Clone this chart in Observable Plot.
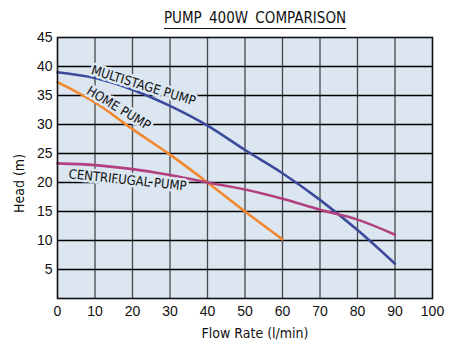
<!DOCTYPE html>
<html>
<head>
<meta charset="utf-8">
<script src="https://cdn.jsdelivr.net/npm/d3@7"></script>
<script src="https://cdn.jsdelivr.net/npm/@observablehq/plot@0.6"></script>
<style>
  html, body { margin: 0; padding: 0; background: #fff; }
  #wrap { position: relative; width: 462px; height: 361px; overflow: hidden; }
  #title {
    position: absolute; top: 9px; left: 155px; width: 200px; text-align: center;
    font-family: "Liberation Sans Narrow", "DejaVu Sans Condensed", "Liberation Sans", sans-serif;
    font-size: 15px; color: #111; word-spacing: 3px;
  }
  #title span { border-bottom: 1.5px solid #111; padding-bottom: 1px; }
</style>
</head>
<body>
<div id="wrap">
  <div id="title"><span>PUMP 400W COMPARISON</span></div>
  <div id="chart"></div>
</div>
<script>
// Flow rate (l/min)
const flow = [0, 10, 20, 30, 40, 50, 60, 70, 80, 90];
// Head (m) per pump
const multistage = [39, 38, 36, 33.2, 29.8, 25.6, 21.6, 17, 11.8, 6];
const homeFlow = [0, 10, 20, 30, 40, 50, 60];
const homePump = [37.3, 33.8, 29.2, 24.8, 20, 15, 10.2];
const centrifugal = [23.3, 23, 22.3, 21.3, 20, 18.8, 17.2, 15.3, 13.6, 11];

const xTicks = [0, 10, 20, 30, 40, 50, 60, 70, 80, 90, 100];
const yTicks = [5, 10, 15, 20, 25, 30, 35, 40, 45];
const xGrid = [10, 20, 30, 40, 50, 60, 70, 80, 90];
const yGrid = [5, 10, 15, 20, 25, 30, 35, 40];

const labelNames = ["MULTISTAGE PUMP", "HOME PUMP", "CENTRIFUGAL PUMP"];
const labelX = [22.9, 16.3, 18.7];
const labelY = [36.7, 32.8, 20.4];
const labelAngle = [17, 31, 6];

const series = [
  ...flow.map((f, i) => ({pump: "multistage", flow: f, head: multistage[i]})),
  ...homeFlow.map((f, i) => ({pump: "home", flow: f, head: homePump[i]})),
  ...flow.map((f, i) => ({pump: "centrifugal", flow: f, head: centrifugal[i]}))
];
const colors = {multistage: "#3c4a9b", home: "#f2872c", centrifugal: "#b3407f"};
const labels = labelNames.map((t, i) => ({t, x: labelX[i], y: labelY[i], a: labelAngle[i]}));

const bg = "#dbe6f1";
const font = `"Liberation Sans", Arial, sans-serif`;
const narrow = `"Liberation Sans Narrow", "DejaVu Sans Condensed", "Liberation Sans", sans-serif`;

const plot = Plot.plot({
  width: 462,
  height: 361,
  marginLeft: 57,
  marginRight: 30,
  marginTop: 37,
  marginBottom: 63,
  style: {fontFamily: font, fontSize: "14px", color: "#111", background: "transparent"},
  x: {domain: [0, 100]},
  y: {domain: [0, 45]},
  marks: [
    Plot.frame({fill: bg}),
    Plot.ruleX(xGrid, {stroke: "#4a4a4a", strokeWidth: 1.3}),
    Plot.ruleY(yGrid, {stroke: "#000", strokeWidth: 1.3}),
    Plot.line(series, {x: "flow", y: "head", z: "pump", stroke: d => colors[d.pump], strokeWidth: 2.6, curve: "catmull-rom"}),
    Plot.text(labels, {x: "x", y: "y", text: "t", rotate: "a", fontSize: 13, fontFamily: narrow, fill: "#111", stroke: bg, strokeWidth: 5}),
    Plot.frame({stroke: "#111", strokeWidth: 1.6}),
    Plot.axisX(xTicks, {tickSize: 0, tickPadding: 8, fontSize: 14, label: null}),
    Plot.axisY(yTicks, {tickSize: 0, tickPadding: 5, fontSize: 14, label: null}),
    Plot.text(["Flow Rate (l/min)"], {frameAnchor: "bottom", dx: 10, dy: 39, fontSize: 14, fontFamily: narrow, fill: "#111"}),
    Plot.text(["Head (m)"], {frameAnchor: "left", dx: -38, dy: 45, rotate: -90, fontSize: 14, fontFamily: narrow, fill: "#111"})
  ]
});
document.getElementById("chart").appendChild(plot);
</script>
</body>
</html>
